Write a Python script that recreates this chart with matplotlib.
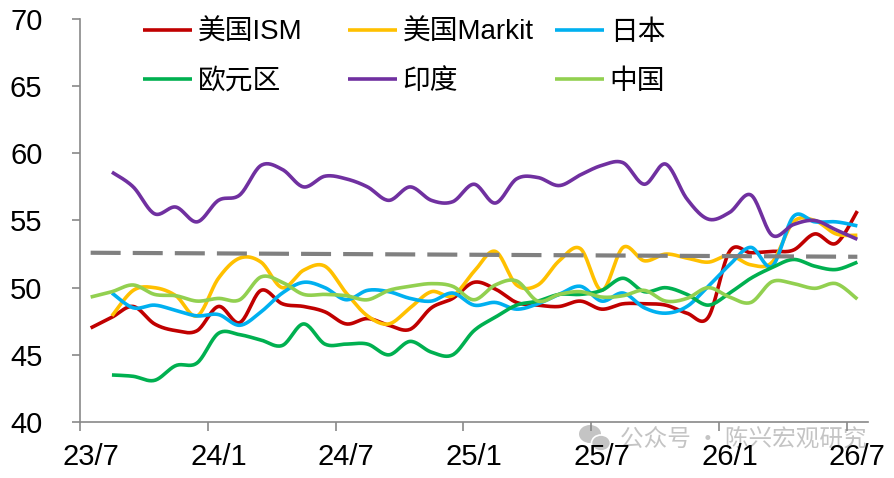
import numpy as np
import matplotlib
matplotlib.use("Agg")
import matplotlib.pyplot as plt
from matplotlib.patches import Ellipse

plt.rcParams['font.family'] = ['Liberation Sans', 'Noto Sans CJK SC', 'DejaVu Sans']

nan = np.nan
months = ['23/7', '23/8', '23/9', '23/10', '23/11', '23/12',
          '24/1', '24/2', '24/3', '24/4', '24/5', '24/6',
          '24/7', '24/8', '24/9', '24/10', '24/11', '24/12',
          '25/1', '25/2', '25/3', '25/4', '25/5', '25/6',
          '25/7', '25/8', '25/9', '25/10', '25/11', '25/12',
          '26/1', '26/2', '26/3', '26/4', '26/5', '26/6', '26/7']
tick_labels = ['23/7', '24/1', '24/7', '25/1', '25/7', '26/1', '26/7']

us_ism = [47.0, 47.8, 48.6, 47.3, 46.8, 46.8, 48.6, 47.4, 49.8, 48.8, 48.6, 48.2,
          47.3, 47.7, 47.2, 46.9, 48.5, 49.2, 50.4, 49.9, 48.9, 48.7, 48.6, 49.0,
          48.4, 48.8, 48.8, 48.7, 48.1, 47.8, 52.7, 52.6, 52.7, 52.8, 54.0, 53.3, 55.7]
us_markit = [nan, 47.9, 49.8, 50.0, 49.4, 47.9, 50.7, 52.2, 51.9, 50.0, 51.3, 51.6,
             49.6, 47.9, 47.3, 48.5, 49.7, 49.4, 51.2, 52.7, 50.2, 50.2, 52.0, 52.9,
             49.8, 53.0, 52.0, 52.5, 52.2, 51.9, 52.4, 51.7, 51.9, 54.9, 55.0, 54.0, 53.9]
japan = [nan, 49.6, 48.5, 48.7, 48.3, 47.9, 48.0, 47.2, 48.2, 49.6, 50.4, 50.0,
         49.1, 49.8, 49.7, 49.2, 49.0, 49.6, 48.7, 48.9, 48.4, 48.8, 49.5, 50.1,
         49.0, 49.6, 48.5, 48.1, 48.6, 50.1, 51.7, 53.0, 51.6, 55.3, 54.9, 54.9, 54.6]
eurozone = [nan, 43.5, 43.4, 43.1, 44.2, 44.4, 46.6, 46.5, 46.1, 45.7, 47.3, 45.8,
            45.8, 45.8, 45.0, 46.0, 45.2, 45.0, 46.8, 47.8, 48.7, 49.0, 49.5, 49.5,
            49.8, 50.7, 49.7, 50.0, 49.5, 48.7, 49.6, 50.7, 51.5, 52.1, 51.6, 51.35, 51.9]
india = [nan, 58.6, 57.5, 55.5, 56.0, 54.9, 56.5, 56.9, 59.1, 58.8, 57.5, 58.3,
         58.1, 57.5, 56.5, 57.5, 56.5, 56.4, 57.7, 56.3, 58.1, 58.2, 57.6, 58.4,
         59.1, 59.3, 57.7, 59.2, 56.6, 55.1, 55.6, 56.9, 53.9, 54.7, 55.0, 54.3, 53.6]
china = [49.3, 49.7, 50.2, 49.5, 49.4, 49.0, 49.2, 49.1, 50.8, 50.4, 49.5, 49.5,
         49.4, 49.1, 49.8, 50.1, 50.3, 50.1, 49.1, 50.2, 50.5, 49.0, 49.5, 49.7,
         49.3, 49.4, 49.8, 49.0, 49.2, 50.0, 49.3, 48.9, 50.45, 50.3, 49.95, 50.3, 49.15]
trend_idx = [0, 36]
trend_val = [52.6, 52.3]

series = [
    ('美国ISM', us_ism, '#C00000'),
    ('美国Markit', us_markit, '#FFC000'),
    ('日本', japan, '#00B0F0'),
    ('欧元区', eurozone, '#00B050'),
    ('印度', india, '#7030A0'),
    ('中国', china, '#92D050'),
]


def smooth(xs, ys, n=20):
    xs = np.asarray(xs, float)
    ys = np.asarray(ys, float)
    m = ~np.isnan(ys)
    P = np.column_stack([xs[m], ys[m]])
    out = []
    N = len(P)
    for k in range(N - 1):
        p0 = P[k - 1] if k > 0 else P[k]
        p1 = P[k]
        p2 = P[k + 1]
        p3 = P[k + 2] if k + 2 < N else P[k + 1]
        c1 = p1 + (p2 - p0) / 6.0
        c2 = p2 - (p3 - p1) / 6.0
        t = np.linspace(0, 1, n, endpoint=(k == N - 2))[:, None]
        b = (1 - t) ** 3 * p1 + 3 * (1 - t) ** 2 * t * c1 + 3 * (1 - t) * t ** 2 * c2 + t ** 3 * p2
        out.append(b)
    out = np.vstack(out)
    return out[:, 0], out[:, 1]


W, H = 895, 478
fig = plt.figure(figsize=(W / 100, H / 100), dpi=100)
fig.patch.set_facecolor('white')
ax = fig.add_axes([80 / W, 56 / H, 788 / W, 403 / H])
ax.patch.set_visible(False)

x = np.arange(len(months)) + 0.5
lines = []
for name, vals, col in series:
    sx, sy = smooth(x, vals)
    ln, = ax.plot(sx, sy, color=col, lw=2.6, label=name, solid_capstyle='butt', zorder=3)
    lines.append(ln)

tx = x[trend_idx]
ax.plot(tx, trend_val, color='#808080', lw=3.0, dashes=(7.2, 2.9), dash_capstyle='butt',
        zorder=4)

ax.set_xlim(0, len(months))
ax.set_ylim(40, 70)
ax.set_yticks(np.arange(40, 71, 5))
ax.set_xticks(np.arange(0, len(months), 6))
ax.set_xticklabels([])
ax.set_xticks(x[::6], minor=True)
ax.set_xticklabels(tick_labels, minor=True)

for s in ['top', 'right']:
    ax.spines[s].set_visible(False)
for s in ['left', 'bottom']:
    ax.spines[s].set_color('#898989')
    ax.spines[s].set_linewidth(1.2)

ax.tick_params(axis='y', which='major', direction='out', length=6, width=1.2,
               color='#898989', labelsize=21, pad=21, labelcolor='black')
ax.tick_params(axis='x', which='major', direction='out', length=6.5, width=1.2,
               color='#898989')
ax.tick_params(axis='x', which='minor', length=0, labelsize=21, pad=15, labelcolor='black')

# legends: three columns
cols = [(143, lines[0:4:3]), (348, lines[1:5:3]), (555, lines[2:6:3])]
legs = []
for px, hs in cols:
    lg = fig.legend(handles=hs, labels=[h.get_label() for h in hs],
                    loc='upper left', bbox_to_anchor=(px / W, 1 - 20 / H),
                    frameon=False, fontsize=20, handlelength=1.75, handletextpad=0.22,
                    borderpad=0, borderaxespad=0, labelspacing=0.82)
    for l in lg.get_lines():
        l.set_linewidth(2.6)
    legs.append(lg)

# watermark
wm_col = '#c4c4c4'
fig.text(620 / W, 1 - 440 / H, '公众号 · 陈兴宏观研究', fontsize=17, color=wm_col,
         va='center', ha='left', zorder=-1,
         family=['Noto Sans CJK SC', 'DejaVu Sans'])
fig.patches.append(Ellipse((590 / W, 1 - 434 / H), 22 / W, 18 / H, transform=fig.transFigure,
                           facecolor=wm_col, edgecolor='none', zorder=-1))
fig.patches.append(Ellipse((601 / W, 1 - 443 / H), 19 / W, 16 / H, transform=fig.transFigure,
                           facecolor=wm_col, edgecolor='white', lw=1.2, zorder=-1))

fig.savefig('out.png', dpi=100, facecolor='white')
